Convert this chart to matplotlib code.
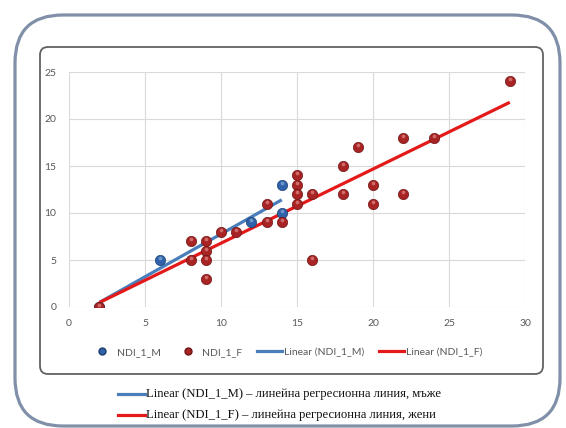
import numpy as np
import matplotlib
matplotlib.use("Agg")
import matplotlib.pyplot as plt
from matplotlib.lines import Line2D
from matplotlib.patches import FancyBboxPatch
from matplotlib.transforms import IdentityTransform, offset_copy

# NDI_1 scores, men (M) and women (F)
m_x = [2, 6, 12, 14, 14]
m_y = [0, 5, 9, 13, 10]
f_x = [2, 8, 8, 9, 9, 9, 9, 10, 11, 13, 13, 14, 15, 15, 15, 15, 16, 16,
       18, 18, 19, 20, 20, 22, 22, 24, 29]
f_y = [0, 7, 5, 7, 6, 5, 3, 8, 8, 11, 9, 9, 14, 13, 12, 11, 12, 5,
       15, 12, 17, 13, 11, 18, 12, 18, 24]

x_ticks = [0, 5, 10, 15, 20, 25, 30]
y_ticks = [0, 5, 10, 15, 20, 25]

legend_labels = ["NDI_1_M", "NDI_1_F", "Linear (NDI_1_M)", "Linear (NDI_1_F)"]
note_lines = ["Linear (NDI_1_M) – линейна регресионна линия, мъже",
              "Linear (NDI_1_F) – линейна регресионна линия, жени"]

BLUE = "#2f62a8"
BLUE_HI = "#8aaee0"
BLUE_LINE = "#4a7ebb"
RED = "#a82424"
RED_HI = "#e08a8a"
RED_LINE = "#e41a1a"
TICK_GREY = "#595959"

W, H = 566, 428
fig = plt.figure(figsize=(W / 100, H / 100), dpi=100)
fig.patch.set_facecolor("white")

# outer rounded frame and inner chart box (pixel coords)
px = IdentityTransform()
outer = FancyBboxPatch((15, H - 426), 545, 411, boxstyle="round,pad=0,rounding_size=48",
                       transform=px, fill=False, edgecolor="#8090a8", linewidth=2.3)
inner = FancyBboxPatch((40, H - 374), 503, 327, boxstyle="round,pad=0,rounding_size=8",
                       transform=px, fill=False, edgecolor="#626262", linewidth=1.3)
fig.patches.extend([outer, inner])

ax = fig.add_axes([69 / W, 1 - 307 / H, (525 - 69) / W, (307 - 72) / H])
ax.set_xlim(0, 30)
ax.set_ylim(0, 25)
ax.set_xticks(x_ticks)
ax.set_yticks(y_ticks)
for s in ax.spines.values():
    s.set_visible(False)
ax.grid(True, color="#d9d9d9", linewidth=0.8)
ax.set_axisbelow(True)
ax.tick_params(length=0, labelsize=7.5, labelcolor=TICK_GREY, pad=9)
for lab in ax.get_xticklabels() + ax.get_yticklabels():
    lab.set_family("Lato")

# trendlines, fitted like the Excel linear trendline
mx = np.array(m_x, dtype=float)
fx = np.array(f_x, dtype=float)
km, bm = np.polyfit(mx, m_y, 1)
kf, bf = np.polyfit(fx, f_y, 1)
xm_line = np.array([mx.min(), mx.max()])
xf_line = np.array([fx.min(), fx.max()])
ax.plot(xm_line, km * xm_line + bm, color=BLUE_LINE, linewidth=2.3, zorder=3,
        solid_capstyle="butt")
ax.plot(xf_line, kf * xf_line + bf, color=RED_LINE, linewidth=2.3, zorder=4,
        solid_capstyle="butt")

# sphere-like markers: dark body plus a small light highlight near the top
hi = offset_copy(ax.transData, fig=fig, x=0, y=2, units="dots")
ax.scatter(m_x, m_y, s=55, color=BLUE, edgecolor="#1d3f70", linewidth=0.5, zorder=5)
ax.scatter(m_x, m_y, s=7, color=BLUE_HI, linewidth=0, alpha=0.7, zorder=6, transform=hi)
ax.scatter(f_x, f_y, s=55, color=RED, edgecolor="#6e1414", linewidth=0.5, zorder=7)
ax.scatter(f_x, f_y, s=7, color=RED_HI, linewidth=0, alpha=0.7, zorder=8, transform=hi)

handles = [
    Line2D([], [], linestyle="none", marker="o", markersize=5, color=BLUE,
           markeredgecolor="#1d3f70"),
    Line2D([], [], linestyle="none", marker="o", markersize=5, color=RED,
           markeredgecolor="#6e1414"),
    Line2D([], [], color=BLUE_LINE, linewidth=2.3),
    Line2D([], [], color=RED_LINE, linewidth=2.3),
]
leg = fig.legend(handles, legend_labels, ncol=4, loc="center",
                 bbox_to_anchor=(286 / W, 1 - 352 / H), frameon=False,
                 prop={"family": "Lato", "size": 7.5}, handlelength=2.4,
                 handletextpad=0.2, columnspacing=1.4)
for t in leg.get_texts():
    t.set_color(TICK_GREY)

# notes under the chart box
for row, (text, col) in enumerate(zip(note_lines, [BLUE_LINE, RED_LINE])):
    yy = 1 - (394 + 21 * row) / H
    fig.add_artist(Line2D([118 / W, 145 / W], [yy, yy], transform=fig.transFigure,
                          color=col, linewidth=2.3))
    fig.text(146 / W, yy, text, ha="left", va="center", fontsize=9.1,
             family="Liberation Serif", color="#111111")

fig.savefig("out.png", dpi=100)
